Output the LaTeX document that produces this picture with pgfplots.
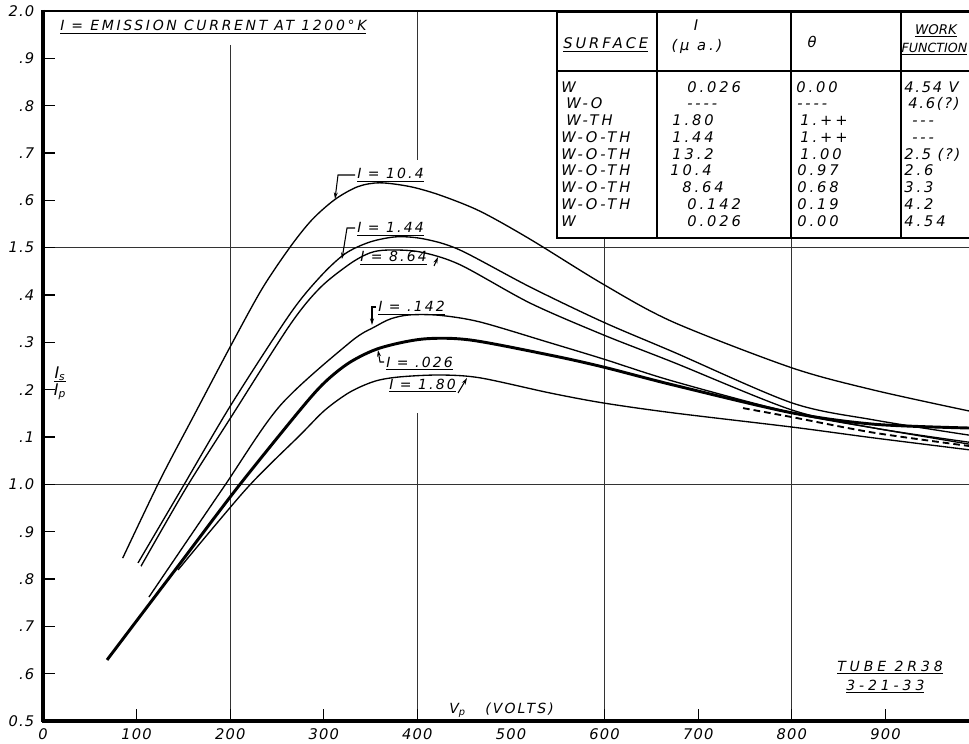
\documentclass[border=0pt]{standalone}
\usepackage{pgfplots}
\pgfplotsset{compat=1.18}
\usepackage{fontspec}
\setmainfont{DejaVu Sans}[LetterSpace=10, Ligatures=TeXOff]
\newfontfamily\tickfont{DejaVu Sans}[LetterSpace=8, Ligatures=TeXOff]
\newfontfamily\labfont{DejaVu Sans}[LetterSpace=15, Ligatures=TeXOff]
\newfontfamily\titfont{DejaVu Sans}[LetterSpace=19, Ligatures=TeXOff]
\newfontfamily\tabfont{DejaVu Sans}[LetterSpace=20, Ligatures=TeXOff]
\newfontfamily\wfont{DejaVu Sans}[LetterSpace=12, Ligatures=TeXOff]
\newfontfamily\widefont{DejaVu Sans}[LetterSpace=28, Ligatures=TeXOff]
\newfontfamily\plainfont{DejaVu Sans}[LetterSpace=0, Ligatures=TeXOff]
\usetikzlibrary{arrows.meta}
\tikzset{px/.style={x=0.75pt,y=-0.75pt,shift={(-32.25pt,540.75pt)}}}
\newcommand{\tck}{\tickfont\itshape\fontsize{11}{13}\selectfont}
\newcommand{\lab}{\labfont\itshape\fontsize{10.5}{12}\selectfont}
\newcommand{\tab}{\tabfont\itshape\fontsize{11}{13}\selectfont}
\newcommand{\wtab}{\wfont\itshape\fontsize{11}{13}\selectfont}
\begin{document}
\begin{tikzpicture}[font=\itshape]
\path[px,use as bounding box] (0,0) rectangle (969,743);
\clip[px] (0,0) rectangle (969,743);
% grid lines
\begin{scope}[px, line width=0.6pt, black!80]
\draw (230.2,45) -- (230.2,721);
\draw (417.4,11) -- (417.4,160);
\draw (417.4,413) -- (417.4,721);
\draw (604.6,238) -- (604.6,721);
\draw (791.8,238) -- (791.8,721);
\draw (43,484.35) -- (969,484.35);
\draw (43,247.7) -- (969,247.7);
\end{scope}
\begin{axis}[at={(0pt,0pt)}, anchor=south west, scale only axis,
  width=694.5pt, height=532.5pt,
  xmin=0, xmax=989.3, ymin=0.5, ymax=2.0,
  axis line style={draw=none},
  xtick={0,100,200,300,400,500,600,700,800,900},
  xticklabels={0,100,200,300,400,500,600,700,800,900},
  ytick={0.5,0.6,0.7,0.8,0.9,1.0,1.1,1.2,1.3,1.4,1.5,1.6,1.7,1.8,1.9,2.0},
  yticklabels={0.5,.6,.7,.8,.9,1.0,.1,.2,.3,.4,1.5,.6,.7,.8,.9,2.0},
  tick pos=left, tick align=inside, major tick length=9pt,
  tick style={black, line width=0.8pt},
  ticklabel style={font=\tck},
  xticklabel style={yshift=-2pt},
  yticklabel style={xshift=-3pt},
  cycle list={{black, line width=1pt}}]
% I = 10.4
\addplot[black, smooth, line width=1pt] coordinates {(85.1,0.844) (125.0,1.009) (160.3,1.142) (200.9,1.294) (234.0,1.413) (263.9,1.501) (287.4,1.559) (312.0,1.602) (336.5,1.629) (360.0,1.637) (392.1,1.629) (424.1,1.611) (466.9,1.577) (520.3,1.518) (598.3,1.423) (673.1,1.343) (800.2,1.246) (887.8,1.199) (989.3,1.155)};
% I = 1.44
\addplot[black, smooth, line width=1pt] coordinates {(101.5,0.834) (148.5,0.992) (200.9,1.168) (263.9,1.360) (295.9,1.438) (322.6,1.487) (349.4,1.512) (378.2,1.523) (408.1,1.518) (445.5,1.495) (520.3,1.417) (598.3,1.343) (673.1,1.280) (800.2,1.172) (887.8,1.136) (989.3,1.104)};
% I = 8.64
\addplot[black, smooth, line width=1pt] coordinates {(104.7,0.827) (152.8,0.992) (200.9,1.142) (263.9,1.337) (295.9,1.415) (328.0,1.466) (349.4,1.489) (368.6,1.495) (402.8,1.491) (445.5,1.464) (520.3,1.383) (598.3,1.316) (673.1,1.258) (800.2,1.157) (887.8,1.119) (989.3,1.089)};
% I = .142
\addplot[black, smooth, line width=1pt] coordinates {(113.2,0.762) (192.3,0.992) (253.2,1.166) (328.0,1.300) (354.7,1.333) (372.0,1.350) (392.1,1.358) (424.1,1.357) (466.9,1.343) (541.7,1.299) (598.3,1.265) (673.1,1.218) (800.2,1.151) (887.8,1.119) (989.3,1.085)};
% I = .026 (thick)
\addplot[black, smooth, line width=2.2pt] coordinates {(68.4,0.629) (114.3,0.749) (144.2,0.827) (207.3,0.992) (274.6,1.157) (301.3,1.216) (328.0,1.258) (360.0,1.288) (406.0,1.307) (456.2,1.305) (541.7,1.273) (598.3,1.248) (673.1,1.210) (800.2,1.151) (887.8,1.127) (989.3,1.119)};
% I = 1.80
\addplot[black, smooth, line width=1pt] coordinates {(144.2,0.819) (217.9,0.992) (274.6,1.104) (301.3,1.157) (328.0,1.195) (354.7,1.218) (381.4,1.227) (424.1,1.231) (466.9,1.225) (541.7,1.193) (598.3,1.172) (673.1,1.151) (800.2,1.121) (887.8,1.098) (989.3,1.073)};
% dashed
\addplot[black, smooth, line width=1.4pt, dash pattern=on 5pt off 3pt] coordinates {(747.9,1.161) (800.2,1.142) (887.8,1.109) (989.3,1.081)};
\end{axis}
\begin{scope}[px]
% frame
\draw[line width=2.2pt] (43,11) -- (975,11);
\draw[line width=2.4pt] (43,10) -- (43,722.2);
\draw[line width=2.4pt] (41.8,721) -- (975,721);
% title
\node[anchor=base west, font=\titfont\itshape\fontsize{10.5}{12}\selectfont, inner sep=0pt] at (60,31) {\underline{I = EMISSION CURRENT AT 1200°K}};
% curve labels
\begin{scope}[every node/.style={anchor=base west, font=\lab, inner sep=0pt}]
\node at (357,179) {\underline{I = 10.4}};
\node at (357,233) {\underline{I = 1.44}};
\node at (360,262) {\underline{I = 8.64}};
\node at (378,312) {\underline{I = .142}};
\node at (386,367) {\underline{I = .026}};
\node at (389,389) {\underline{I = 1.80}};
\node[fill=white, inner sep=1.5pt] at (447,713) {V\textsubscript{p}\ \ \ (VOLTS)};
\node[font=\widefont\itshape\fontsize{10.5}{12}\selectfont] at (837,671) {\underline{TUBE 2R38}};
\node[font=\widefont\itshape\fontsize{10.5}{12}\selectfont] at (846,690) {\underline{3-21-33}};
\end{scope}
\node[font=\lab\fontsize{12}{14}\selectfont, inner sep=0pt] at (60,383) {\begin{tabular}{@{}c@{}}I\textsubscript{s}\\[-2pt]\hline I\textsubscript{p}\end{tabular}};
% leaders
\begin{scope}[line width=0.8pt, -{Stealth[length=5pt,width=3pt]}]
\draw (355,175)--(338,175)--(335,199);
\draw (355,228)--(347,228)--(342,259);
\draw (434,266)--(438,257);
\draw (376,307)--(372,307)--(372,325);
\draw (384,362)--(380,362)--(378,350);
\draw (458,393)--(467,378);
\end{scope}
% table
\fill[white] (557,13) rectangle (985,238);
\draw[line width=1pt] (657,13)--(657,238) (791,13)--(791,238) (901,13)--(901,238) (557,71)--(985,71);
\draw[line width=2.2pt] (557,12) rectangle (985,238);
\begin{scope}[every node/.style={font=\tab, inner sep=0pt}]
\node[anchor=base west] at (563,49) {\underline{SURFACE}};
\node at (696,25) {I};
\node at (697,46) {(μ a.)};
\node at (812,42) {θ};
\node[font=\plainfont\itshape\fontsize{10}{12}\selectfont] at (936,31) {\underline{WORK}};
\node[font=\plainfont\itshape\fontsize{9.5}{12}\selectfont] at (934.5,49) {\underline{FUNCTION}};
\end{scope}
\begin{scope}[every node/.style={font=\tab, inner sep=0pt, anchor=base west}]
\node at (561,92.5) {W}; \node at (687,92.5) {0.026}; \node at (796,92.5) {0.00}; \node[font=\wtab] at (904,92.5) {4.54 V};
\node at (566,109) {W-O}; \node at (687,109) {----}; \node at (797,109) {----}; \node[font=\wtab] at (908,109) {4.6(?)};
\node at (566,126) {W-TH}; \node at (672,126) {1.80}; \node at (800,126) {1.++}; \node at (912,126) {---};
\node at (561,142.5) {W-O-TH}; \node at (672,142.5) {1.44}; \node at (800,142.5) {1.++}; \node at (912,142.5) {---};
\node at (561,159.5) {W-O-TH}; \node at (672,159.5) {13.2}; \node at (800,159.5) {1.00}; \node[font=\wtab] at (904,159.5) {2.5 (?)};
\node at (561,176) {W-O-TH}; \node at (670,176) {10.4}; \node at (797,176) {0.97}; \node at (904,176) {2.6};
\node at (561,193) {W-O-TH}; \node at (682,193) {8.64}; \node at (797,193) {0.68}; \node at (904,193) {3.3};
\node at (561,209.5) {W-O-TH}; \node at (687,209.5) {0.142}; \node at (797,209.5) {0.19}; \node at (904,209.5) {4.2};
\node at (561,226.5) {W}; \node at (687,226.5) {0.026}; \node at (797,226.5) {0.00}; \node at (904,226.5) {4.54};
\end{scope}
\end{scope}
\end{tikzpicture}
\end{document}
